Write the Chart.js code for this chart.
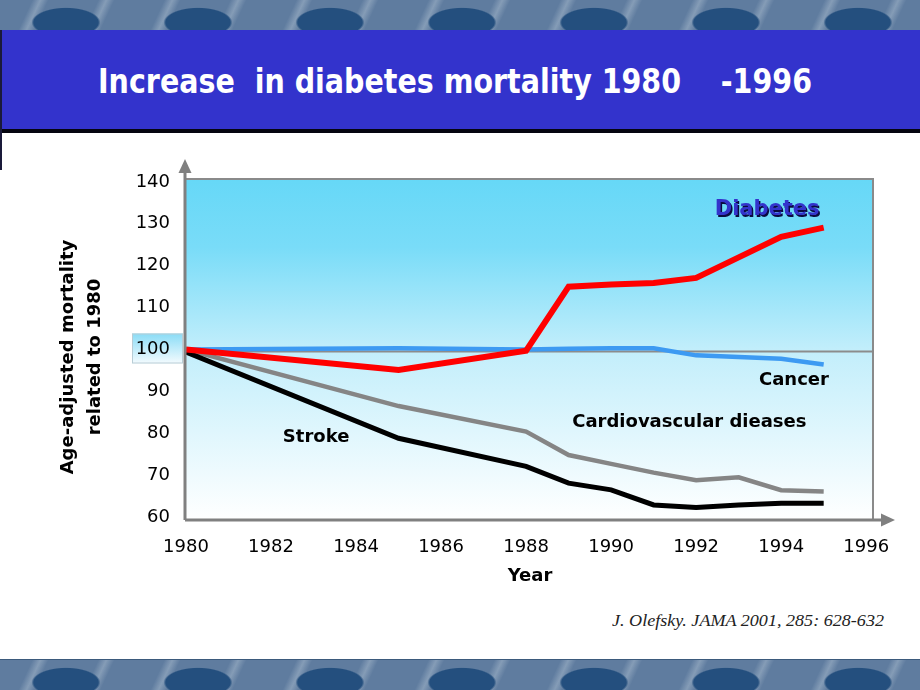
<!DOCTYPE html>
<html>
<head>
<meta charset="utf-8">
<script src="https://cdn.jsdelivr.net/npm/chart.js@4.4.1/dist/chart.umd.min.js"></script>
<style>
  html, body { margin:0; padding:0; background:#ffffff; }
  #page { position:relative; width:920px; height:690px; overflow:hidden; background:#fff; }
  .pattern { position:absolute; left:0; width:920px;
    background-color:#5f7c9f;
    background-image:
      radial-gradient(ellipse 46px 20px at 50% 70%, #244f7e 0 70%, rgba(36,79,126,0) 75%),
      linear-gradient(115deg, rgba(160,180,200,0.0) 40%, rgba(170,188,206,0.5) 50%, rgba(160,180,200,0) 60%);
    background-size:132px 32px, 66px 32px; }
  #topPat { top:0; height:30px; }
  #botPat { top:659px; height:31px; border-top:1px solid #3b5a7c; }
  #band { position:absolute; left:2px; top:30px; width:918px; height:99px; background:#3333cc;
    border-bottom:4px solid #050510; }
  #leftEdge { position:absolute; left:0; top:30px; width:2px; height:140px; background:#1a1a3a; }
  #title { position:absolute; left:98px; top:62px; color:#fff; font-family:"DejaVu Sans", sans-serif;
    font-weight:bold; font-size:33px; white-space:pre; transform-origin:0 0; line-height:40px; }
  #cite { position:absolute; left:612px; top:611px; font-family:"Liberation Serif", serif; font-style:italic;
    font-size:17px; color:#222; white-space:pre; transform-origin:0 0; }
  #c { position:absolute; left:0; top:0; }
</style>
</head>
<body>
<div id="page">
  <div id="topPat" class="pattern"></div>
  <div id="band"></div>
  <div id="leftEdge"></div>
  <div id="title">Increase  in diabetes mortality 1980    -1996</div>
  <div id="cite">J. Olefsky. JAMA 2001, 285: 628-632</div>
  <div id="botPat" class="pattern"></div>
  <canvas id="c" width="920" height="690"></canvas>
</div>
<script>
// ---------------- data ----------------
const X_TICKS = [1980, 1982, 1984, 1986, 1988, 1990, 1992, 1994, 1996];
const Y_TICKS = [60, 70, 80, 90, 100, 110, 120, 130, 140];

const diabetesYears  = [1980, 1985, 1988, 1989, 1990, 1991, 1992, 1993, 1994, 1995];
const diabetesValues = [100, 95.1, 99.7, 115.0, 115.5, 115.9, 117.1, 122.0, 126.9, 129.1];

const cancerYears  = [1980, 1985, 1988, 1989, 1990, 1991, 1992, 1993, 1994, 1995];
const cancerValues = [100, 100.3, 100.0, 100.2, 100.3, 100.3, 98.6, 98.2, 97.8, 96.4];

const cvdYears  = [1980, 1985, 1988, 1989, 1990, 1991, 1992, 1993, 1994, 1995];
const cvdValues = [100, 86.5, 80.4, 74.8, 72.7, 70.6, 68.8, 69.5, 66.4, 66.1];

const strokeYears  = [1980, 1985, 1988, 1989, 1990, 1991, 1992, 1993, 1994, 1995];
const strokeValues = [99.4, 78.8, 72.1, 68.1, 66.5, 62.9, 62.3, 62.9, 63.3, 63.3];

const BASELINE = 99.5;

const LABEL_TEXT  = ['Diabetes', 'Cancer', 'Cardiovascular dieases', 'Stroke'];
const LABEL_YEAR  = [1993.67, 1994.3, 1991.84, 1983.06];
const LABEL_VALUE = [133.3, 92.7, 82.7, 79.1];

const pts = (xs, ys) => xs.map((x, i) => ({ x, y: ys[i] }));

// fit text widths
function fit(id, target) {
  const t = document.getElementById(id);
  const w = t.getBoundingClientRect().width;
  t.style.transform = 'scaleX(' + (target / w) + ')';
}
fit('title', 714);
fit('cite', 272);

const FONT = '"DejaVu Sans", sans-serif';

const deco = {
  id: 'deco',
  beforeDraw(chart) {
    const { ctx, chartArea: a, scales: { y } } = chart;
    ctx.save();
    const g = ctx.createLinearGradient(0, a.top, 0, a.bottom);
    g.addColorStop(0, '#66d8f7');
    g.addColorStop(0.2, '#79dcf8');
    g.addColorStop(0.5, '#c2eefb');
    g.addColorStop(1, '#ffffff');
    ctx.fillStyle = g;
    ctx.fillRect(a.left, a.top, a.right - a.left, a.bottom - a.top);
    // highlight box behind the "100" tick
    const py = y.getPixelForValue(100);
    const bg = ctx.createLinearGradient(0, py - 16, 0, py + 14);
    bg.addColorStop(0, '#8adcf6');
    bg.addColorStop(1, '#f4fbfe');
    ctx.fillStyle = bg;
    ctx.fillRect(132, py - 16, 51, 30);
    ctx.strokeStyle = '#b8cdd6';
    ctx.lineWidth = 1;
    ctx.strokeRect(132.5, py - 15.5, 50, 29);
    ctx.restore();
  },
  beforeDatasetsDraw(chart) {
    const { ctx, chartArea: a, scales: { y } } = chart;
    ctx.save();
    const py = y.getPixelForValue(BASELINE);
    ctx.strokeStyle = '#8c8c8c';
    ctx.lineWidth = 2;
    ctx.beginPath(); ctx.moveTo(a.left, py); ctx.lineTo(a.right, py); ctx.stroke();
    ctx.restore();
  },
  afterDatasetsDraw(chart) {
    const { ctx, chartArea: a, scales: { x, y } } = chart;
    ctx.save();
    // frame (top and right)
    ctx.strokeStyle = '#8a8a8a';
    ctx.lineWidth = 2;
    ctx.beginPath();
    ctx.moveTo(a.left, a.top); ctx.lineTo(a.right, a.top); ctx.lineTo(a.right, a.bottom);
    ctx.stroke();
    // axes with arrows
    ctx.strokeStyle = '#808080';
    ctx.fillStyle = '#808080';
    ctx.lineWidth = 3;
    ctx.beginPath();
    ctx.moveTo(a.left - 1, a.bottom); ctx.lineTo(a.left - 1, a.top - 8);
    ctx.moveTo(a.left - 1, a.bottom); ctx.lineTo(a.right + 9, a.bottom);
    ctx.stroke();
    ctx.beginPath();
    ctx.moveTo(a.left - 1, a.top - 20); ctx.lineTo(a.left - 7.5, a.top - 6); ctx.lineTo(a.left + 5.5, a.top - 6);
    ctx.closePath(); ctx.fill();
    ctx.beginPath();
    ctx.moveTo(a.right + 22, a.bottom); ctx.lineTo(a.right + 8, a.bottom - 6.5); ctx.lineTo(a.right + 8, a.bottom + 6.5);
    ctx.closePath(); ctx.fill();

    // series labels
    ctx.textAlign = 'center';
    ctx.textBaseline = 'middle';
    LABEL_TEXT.forEach((t, i) => {
      const px = x.getPixelForValue(LABEL_YEAR[i]);
      const py = y.getPixelForValue(LABEL_VALUE[i]);
      if (i === 0) {
        ctx.font = 'bold 21px ' + FONT;
        ctx.fillStyle = '#0a0a40';
        ctx.fillText(t, px + 1.5, py + 1.5);
        ctx.fillStyle = '#3333cc';
        ctx.fillText(t, px, py);
      } else {
        ctx.font = 'bold 18px ' + FONT;
        ctx.fillStyle = '#000';
        ctx.fillText(t, px, py);
      }
    });

    // axis titles
    ctx.font = 'bold 18px ' + FONT;
    ctx.fillStyle = '#000';
    ctx.fillText('Year', 530, 576);
    ctx.translate(0, 357);
    ctx.rotate(-Math.PI / 2);
    ctx.fillText('Age-adjusted mortality', 0, 68);
    ctx.fillText('related to 1980', 0, 95);
    ctx.restore();
  }
};

new Chart(document.getElementById('c'), {
  type: 'line',
  data: {
    datasets: [
      { label: 'Diabetes', data: pts(diabetesYears, diabetesValues), borderColor: '#ff0000', borderWidth: 6 },
      { label: 'Stroke', data: pts(strokeYears, strokeValues), borderColor: '#000000', borderWidth: 5 },
      { label: 'Cardiovascular dieases', data: pts(cvdYears, cvdValues), borderColor: '#858585', borderWidth: 4.5 },
      { label: 'Cancer', data: pts(cancerYears, cancerValues), borderColor: '#3d9af2', borderWidth: 4.5 }
    ]
  },
  options: {
    responsive: false,
    animation: false,
    devicePixelRatio: 1,
    layout: { padding: { left: 0, top: 179, right: 47, bottom: 0 } },
    elements: { point: { radius: 0, hoverRadius: 0 }, line: { tension: 0, fill: false, borderJoinStyle: 'miter' } },
    plugins: { legend: { display: false }, title: { display: false }, tooltip: { enabled: false } },
    scales: {
      x: {
        type: 'linear', min: 1980, max: 1996.16,
        afterBuildTicks: s => { s.ticks = X_TICKS.map(v => ({ value: v })); },
        afterFit: s => { s.height = 170; },
        grid: { display: false }, border: { display: false },
        ticks: { autoSkip: false, maxRotation: 0, padding: 9, color: '#000', font: { family: FONT, size: 18 },
                 callback: v => String(v) }
      },
      y: {
        min: 59.3, max: 140.7,
        afterBuildTicks: s => { s.ticks = Y_TICKS.map(v => ({ value: v })); },
        afterFit: s => { s.width = 186; },
        grid: { display: false }, border: { display: false },
        ticks: { padding: 8, color: '#000', font: { family: FONT, size: 18 }, callback: v => String(v) }
      }
    }
  },
  plugins: [deco]
});
</script>
</body>
</html>
